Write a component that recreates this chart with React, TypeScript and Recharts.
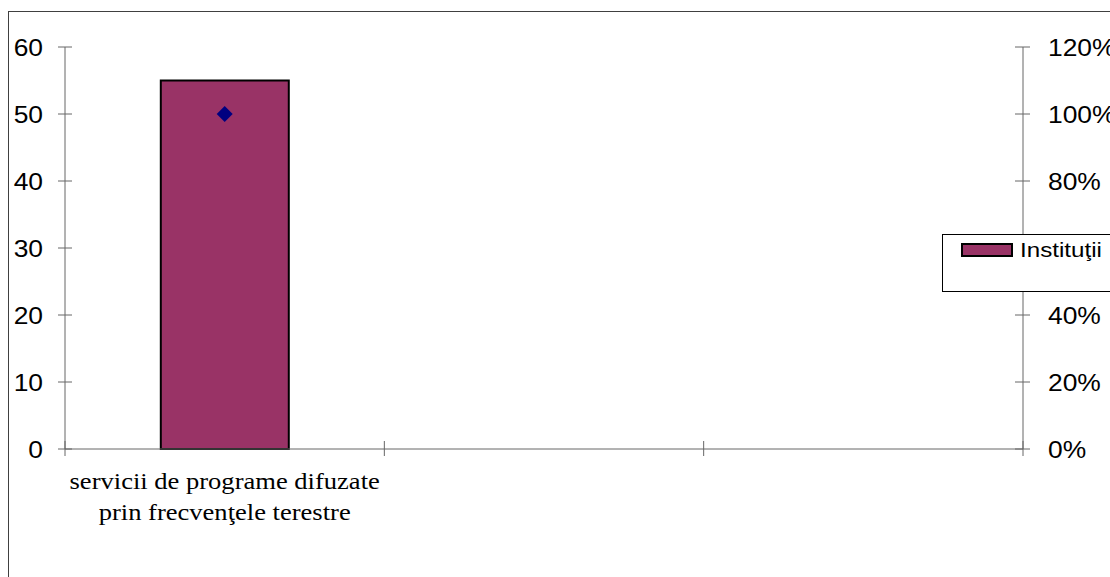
import React from 'react';
import { ComposedChart, Bar, Line, XAxis, YAxis } from 'recharts';

// one real category, the other two slots are empty in the original sheet
const categories = ['servicii de programe difuzate\nprin frecvenţele terestre', '', ''];
const institutii = [55, null, null];
const shares = [1.0, null, null];
const leftTicks = [0, 10, 20, 30, 40, 50, 60];
const rightTicks = [0, 0.2, 0.4, 0.6, 0.8, 1.0, 1.2];
const seriesName = 'Instituţii';

const data = categories.map((c, i) => ({ category: c, institutii: institutii[i], share: shares[i] }));

const AXIS = '#666666';
const SANS = '"Liberation Sans", Arial, sans-serif';
const SERIF = '"Liberation Serif", "Times New Roman", serif';

const LeftTick = (props: any) => {
  const { x, y, payload } = props;
  return (
    <g>
      <line x1={x + 15} x2={x + 29} y1={y} y2={y} stroke={AXIS} />
      <text x={0} y={0} dy="0.355em" textAnchor="end" fontFamily={SANS} fontSize={24} fill="#000"
        transform={`translate(${x},${y}) scale(1.1,1)`}>{payload.value}</text>
    </g>
  );
};

const RightTick = (props: any) => {
  const { x, y, payload } = props;
  return (
    <g>
      <line x1={x - 33} x2={x - 18} y1={y} y2={y} stroke={AXIS} />
      <text x={0} y={0} dy="0.355em" textAnchor="start" fontFamily={SANS} fontSize={24} fill="#000"
        transform={`translate(${x},${y}) scale(1.1,1)`}>{Math.round(payload.value * 100) + '%'}</text>
    </g>
  );
};

const CategoryTick = (props: any) => {
  const { x, y, payload } = props;
  const axisY = y - 18;
  const half = payload.offset || 0;
  const left = payload.coordinate - half;
  const right = payload.coordinate + half;
  const lines = String(payload.value).split('\n');
  return (
    <g>
      <line x1={left} x2={left} y1={axisY - 8} y2={axisY + 7} stroke={AXIS} />
      {payload.index === categories.length - 1 && (
        <line x1={right} x2={right} y1={axisY - 8} y2={axisY + 7} stroke={AXIS} />
      )}
      <text x={0} y={0} textAnchor="middle" fontFamily={SERIF} fontSize={23.5} fill="#000"
        transform={`translate(${x},${axisY}) scale(1.13,1)`}>
        {lines.map((l, i) => (
          <tspan key={i} x={0} y={40 + i * 31}>{l}</tspan>
        ))}
      </text>
    </g>
  );
};

const Diamond = (props: any) => {
  const { cx, cy } = props;
  if (cx == null || cy == null || Number.isNaN(cy)) return null;
  return <polygon points={`${cx},${cy - 8} ${cx + 8},${cy} ${cx},${cy + 8} ${cx - 8},${cy}`} fill="#000080" />;
};

export default function App() {
  return (
    <div style={{ position: 'absolute', left: 0, top: 0, width: 1110, height: 577, overflow: 'hidden', background: '#fff' }}>
      <div style={{ position: 'absolute', left: 8, top: 11, width: 1300, height: 800, border: '1px solid #404040' }} />
      <div style={{ position: 'absolute', left: 0, top: 0 }}>
        <ComposedChart width={1110} height={577} data={data} barCategoryGap="30%"
          margin={{ top: 47, right: 0, bottom: 68, left: 0 }}>
          <XAxis dataKey="category" interval={0} tickSize={8} tickMargin={10} height={60}
            axisLine={{ stroke: AXIS }} tickLine={false} tick={<CategoryTick />} />
          <YAxis yAxisId="left" orientation="left" width={65} domain={[0, 60]} ticks={leftTicks}
            tickSize={7} tickMargin={15} axisLine={{ stroke: AXIS }} tickLine={false} tick={<LeftTick />} />
          <YAxis yAxisId="right" orientation="right" width={87} domain={[0, 1.2]} ticks={rightTicks}
            tickSize={8} tickMargin={17} axisLine={{ stroke: AXIS }} tickLine={false} tick={<RightTick />} />
          <Bar yAxisId="left" dataKey="institutii" name={seriesName} fill="#993366" stroke="#000"
            strokeWidth={2} isAnimationActive={false} />
          <Line yAxisId="right" dataKey="share" stroke="none" dot={<Diamond />} activeDot={false}
            legendType="none" isAnimationActive={false} />
        </ComposedChart>
      </div>
      <div style={{ position: 'absolute', left: 942, top: 234, width: 220, height: 56, border: '1px solid #000', background: '#fff' }}>
        <div style={{ position: 'absolute', left: 18, top: 8, width: 48, height: 10, border: '2px solid #000', background: '#993366' }} />
        <span style={{ position: 'absolute', left: 77, top: 4, fontFamily: SANS, fontSize: 21, lineHeight: '21px',
          whiteSpace: 'nowrap', display: 'inline-block', transform: 'scaleX(1.15)', transformOrigin: 'left' }}>{seriesName}</span>
      </div>
    </div>
  );
}
